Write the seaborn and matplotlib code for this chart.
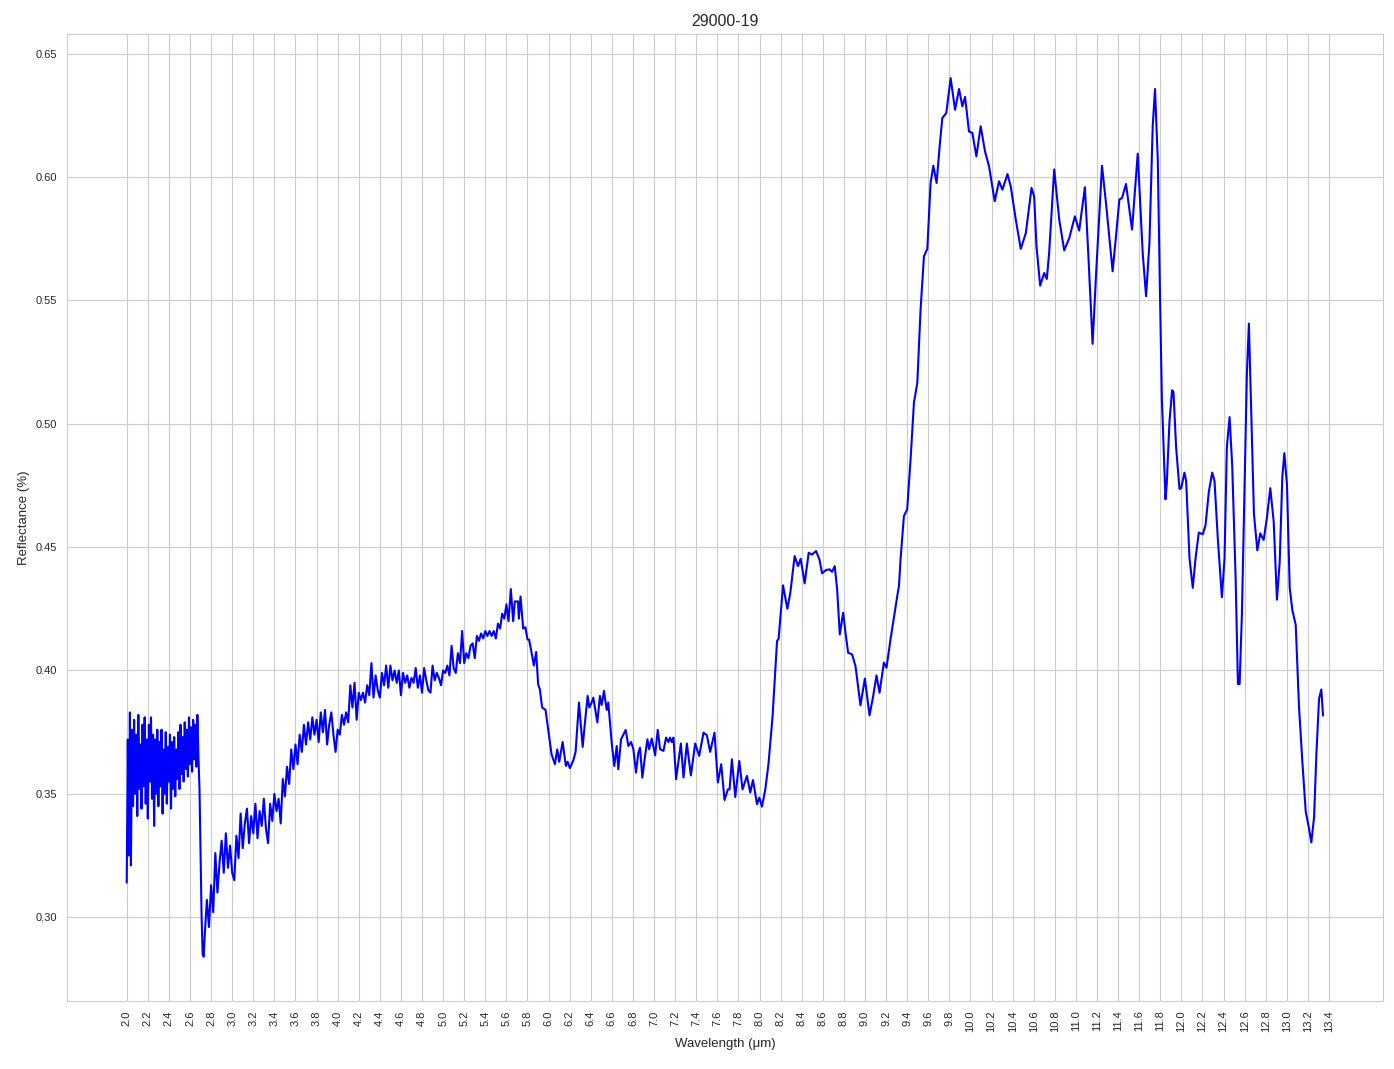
import numpy as np
import pandas as pd
import matplotlib
matplotlib.use('Agg')
import matplotlib.pyplot as plt
import seaborn as sns

# Reflectance (sample 29000-19)
# noisy start, 2.00-2.73 um, 0.01 um steps
refl_a = [0.314, 0.372, 0.325, 0.383, 0.321, 0.376, 0.345, 0.380, 0.350, 0.374,
          0.341, 0.382, 0.352, 0.370, 0.344, 0.378, 0.353, 0.381, 0.346, 0.372,
          0.340, 0.378, 0.355, 0.381, 0.348, 0.374, 0.337, 0.372, 0.350, 0.376,
          0.345, 0.371, 0.353, 0.376, 0.342, 0.368, 0.350, 0.375, 0.346, 0.369,
          0.355, 0.374, 0.344, 0.371, 0.352, 0.373, 0.349, 0.368, 0.356, 0.375,
          0.352, 0.378, 0.358, 0.373, 0.355, 0.379, 0.360, 0.376, 0.357, 0.381,
          0.362, 0.377, 0.359, 0.380, 0.364, 0.378, 0.361, 0.382, 0.365, 0.352,
          0.325, 0.300, 0.285, 0.284]

# rising noisy part, 2.74-3.84 um, 0.02 um steps
refl_b = [0.293, 0.307, 0.296, 0.313, 0.302, 0.326, 0.310, 0.322, 0.331, 0.318,
          0.334, 0.320, 0.329, 0.318, 0.315, 0.333, 0.324, 0.342, 0.328, 0.338,
          0.344, 0.330, 0.341, 0.334, 0.346, 0.332, 0.343, 0.337, 0.348, 0.336,
          0.330, 0.346, 0.339, 0.350, 0.343, 0.348, 0.338, 0.356, 0.349, 0.361,
          0.354, 0.368, 0.360, 0.370, 0.362, 0.374, 0.367, 0.378, 0.370, 0.379,
          0.372, 0.381, 0.374, 0.380, 0.371, 0.383]

# plateau, 3.86-5.58 um, 0.02 um steps
refl_c = [0.375, 0.384, 0.370, 0.378, 0.383, 0.374, 0.367, 0.376, 0.374, 0.382,
          0.378, 0.383, 0.379, 0.394, 0.385, 0.395, 0.380, 0.391, 0.388, 0.391,
          0.387, 0.394, 0.390, 0.403, 0.389, 0.398, 0.392, 0.389, 0.399, 0.394,
          0.402, 0.393, 0.402, 0.396, 0.400, 0.395, 0.400, 0.390, 0.399, 0.395,
          0.398, 0.393, 0.397, 0.395, 0.401, 0.393, 0.398, 0.391, 0.401, 0.396,
          0.392, 0.391, 0.402, 0.396, 0.399, 0.397, 0.394, 0.400, 0.399, 0.402,
          0.398, 0.410, 0.401, 0.399, 0.407, 0.403, 0.416, 0.403, 0.407, 0.405,
          0.410, 0.411, 0.405, 0.414, 0.412, 0.415, 0.413, 0.416, 0.414, 0.416,
          0.414, 0.416, 0.413, 0.419, 0.417, 0.423, 0.421]

# smoother long-wave part, irregular sampling
wl_d = [5.600, 5.620, 5.642, 5.664, 5.680, 5.710, 5.718, 5.734, 5.759, 5.780,
        5.800, 5.815, 5.844, 5.860, 5.882, 5.901, 5.917, 5.939, 5.971, 5.996,
        6.028, 6.060, 6.082, 6.101, 6.133, 6.164, 6.180, 6.202, 6.234, 6.256,
        6.288, 6.323, 6.345, 6.370, 6.386, 6.408, 6.424, 6.462, 6.487, 6.503,
        6.525, 6.551, 6.566, 6.598, 6.623, 6.646, 6.661, 6.687, 6.731, 6.756,
        6.782, 6.804, 6.829, 6.851, 6.867, 6.889, 6.915, 6.937, 6.953, 6.978,
        7.010, 7.035, 7.057, 7.089, 7.114, 7.136, 7.152, 7.168, 7.184, 7.209,
        7.254, 7.279, 7.311, 7.349, 7.390, 7.428, 7.469, 7.501, 7.532, 7.573,
        7.605, 7.637, 7.668, 7.700, 7.716, 7.738, 7.770, 7.808, 7.839, 7.881,
        7.912, 7.938, 7.976, 7.998, 8.023, 8.055, 8.086, 8.124, 8.166, 8.181,
        8.223, 8.264, 8.292, 8.333, 8.365, 8.390, 8.428, 8.466, 8.498, 8.536,
        8.568, 8.593, 8.631, 8.663, 8.688, 8.713, 8.736, 8.761, 8.793, 8.815,
        8.840, 8.878, 8.910, 8.957, 8.999, 9.043, 9.078, 9.109, 9.138, 9.179,
        9.204, 9.242, 9.306, 9.322, 9.337, 9.369, 9.400, 9.432, 9.464, 9.496,
        9.527, 9.559, 9.591, 9.622, 9.648, 9.679, 9.708, 9.733, 9.771, 9.812,
        9.854, 9.892, 9.923, 9.949, 9.986, 10.018, 10.056, 10.097, 10.138, 10.176,
        10.230, 10.271, 10.303, 10.351, 10.382, 10.430, 10.477, 10.525, 10.579, 10.604,
        10.626, 10.661, 10.699, 10.724, 10.746, 10.794, 10.842, 10.889, 10.937, 10.990,
        11.031, 11.085, 11.120, 11.158, 11.190, 11.247, 11.285, 11.348, 11.380, 11.412,
        11.437, 11.475, 11.532, 11.586, 11.633, 11.665, 11.697, 11.728, 11.750, 11.776,
        11.798, 11.815, 11.849, 11.861, 11.887, 11.912, 11.925, 11.950, 11.982, 11.998,
        12.029, 12.045, 12.077, 12.108, 12.134, 12.165, 12.203, 12.229, 12.260, 12.292,
        12.314, 12.346, 12.384, 12.409, 12.431, 12.457, 12.482, 12.514, 12.536, 12.552,
        12.574, 12.599, 12.621, 12.640, 12.662, 12.688, 12.720, 12.748, 12.780, 12.811,
        12.843, 12.875, 12.906, 12.932, 12.957, 12.976, 13.001, 13.027, 13.052, 13.084,
        13.115, 13.147, 13.179, 13.210, 13.232, 13.258, 13.280, 13.305, 13.327, 13.343]
refl_d = [0.4268, 0.4200, 0.4330, 0.4200, 0.4280, 0.4280, 0.4210, 0.4300, 0.4170, 0.4175,
          0.4126, 0.4125, 0.4060, 0.4020, 0.4075, 0.3943, 0.3924, 0.3850, 0.3840, 0.3760,
          0.3660, 0.3620, 0.3680, 0.3630, 0.3710, 0.3613, 0.3630, 0.3604, 0.3635, 0.3670,
          0.3870, 0.3690, 0.3790, 0.3897, 0.3850, 0.3870, 0.3890, 0.3790, 0.3897, 0.3860,
          0.3917, 0.3840, 0.3870, 0.3708, 0.3613, 0.3694, 0.3600, 0.3721, 0.3759, 0.3694,
          0.3710, 0.3681, 0.3586, 0.3667, 0.3687, 0.3566, 0.3654, 0.3721, 0.3681, 0.3724,
          0.3656, 0.3759, 0.3681, 0.3674, 0.3728, 0.3710, 0.3728, 0.3710, 0.3728, 0.3559,
          0.3704, 0.3566, 0.3704, 0.3575, 0.3704, 0.3654, 0.3748, 0.3737, 0.3670, 0.3748,
          0.3546, 0.3620, 0.3475, 0.3518, 0.3518, 0.3640, 0.3487, 0.3633, 0.3518, 0.3573,
          0.3505, 0.3556, 0.3458, 0.3485, 0.3448, 0.3518, 0.3626, 0.3816, 0.4119, 0.4129,
          0.4345, 0.4250, 0.4315, 0.4464, 0.4423, 0.4453, 0.4353, 0.4477, 0.4470, 0.4484,
          0.4450, 0.4394, 0.4407, 0.4410, 0.4400, 0.4423, 0.4329, 0.4146, 0.4234, 0.4153,
          0.4072, 0.4065, 0.4018, 0.3859, 0.3967, 0.3818, 0.3897, 0.3980, 0.3910, 0.4032,
          0.4011, 0.4126, 0.4302, 0.4342, 0.4450, 0.4626, 0.4653, 0.4855, 0.5085, 0.5166,
          0.5463, 0.5679, 0.5709, 0.5976, 0.6046, 0.5976, 0.6125, 0.6239, 0.6260, 0.6401,
          0.6273, 0.6357, 0.6287, 0.6325, 0.6185, 0.6179, 0.6084, 0.6206, 0.6104, 0.6044,
          0.5902, 0.5983, 0.5949, 0.6012, 0.5962, 0.5827, 0.5709, 0.5773, 0.5956, 0.5922,
          0.5720, 0.5560, 0.5611, 0.5587, 0.5692, 0.6031, 0.5827, 0.5703, 0.5753, 0.5841,
          0.5783, 0.5959, 0.5665, 0.5324, 0.5598, 0.6046, 0.5895, 0.5618, 0.5760, 0.5909,
          0.5915, 0.5972, 0.5787, 0.6095, 0.5693, 0.5517, 0.5733, 0.6206, 0.6357, 0.6071,
          0.5503, 0.5100, 0.4694, 0.4754, 0.5009, 0.5136, 0.5129, 0.4904, 0.4736, 0.4739,
          0.4802, 0.4769, 0.4454, 0.4335, 0.4454, 0.4559, 0.4552, 0.4589, 0.4724, 0.4802,
          0.4769, 0.4529, 0.4297, 0.4454, 0.4904, 0.5027, 0.4829, 0.4380, 0.3945, 0.3945,
          0.4230, 0.4754, 0.5204, 0.5406, 0.5054, 0.4634, 0.4487, 0.4556, 0.4529, 0.4619,
          0.4739, 0.4604, 0.4287, 0.4439, 0.4784, 0.4881, 0.4754, 0.4335, 0.4245, 0.4185,
          0.3855, 0.3630, 0.3428, 0.3360, 0.3303, 0.3405, 0.3660, 0.3885, 0.3923, 0.3817]

wl_a = np.round(2.00 + 0.01 * np.arange(len(refl_a)), 3)
wl_b = np.round(2.74 + 0.02 * np.arange(len(refl_b)), 3)
wl_c = np.round(3.86 + 0.02 * np.arange(len(refl_c)), 3)

df = pd.DataFrame({
    'Wavelength': np.concatenate([wl_a, wl_b, wl_c, wl_d]),
    'Reflectance': np.concatenate([refl_a, refl_b, refl_c, refl_d]),
})

sns.set_style('whitegrid')
plt.rcParams['font.family'] = ['Liberation Sans', 'DejaVu Sans']

fig, ax = plt.subplots(figsize=(13.94, 10.69), dpi=100)
sns.lineplot(data=df, x='Wavelength', y='Reflectance', color='blue',
             linewidth=1.5, sort=False, estimator=None, ax=ax)

xticks = np.round(np.arange(2.0, 13.41, 0.2), 1)
ax.set_xticks(xticks)
ax.set_xticklabels([f'{t:.1f}' for t in xticks], rotation=90, fontsize=8)
ax.tick_params(axis='y', labelsize=8)
ax.set_title('29000-19', fontsize=11.5)
ax.set_xlabel('Wavelength (μm)', fontsize=9.5)
ax.set_ylabel('Reflectance (%)', fontsize=9.5)

fig.subplots_adjust(left=0.048, right=0.992, top=0.968, bottom=0.064)
fig.savefig('out.png', dpi=100)
